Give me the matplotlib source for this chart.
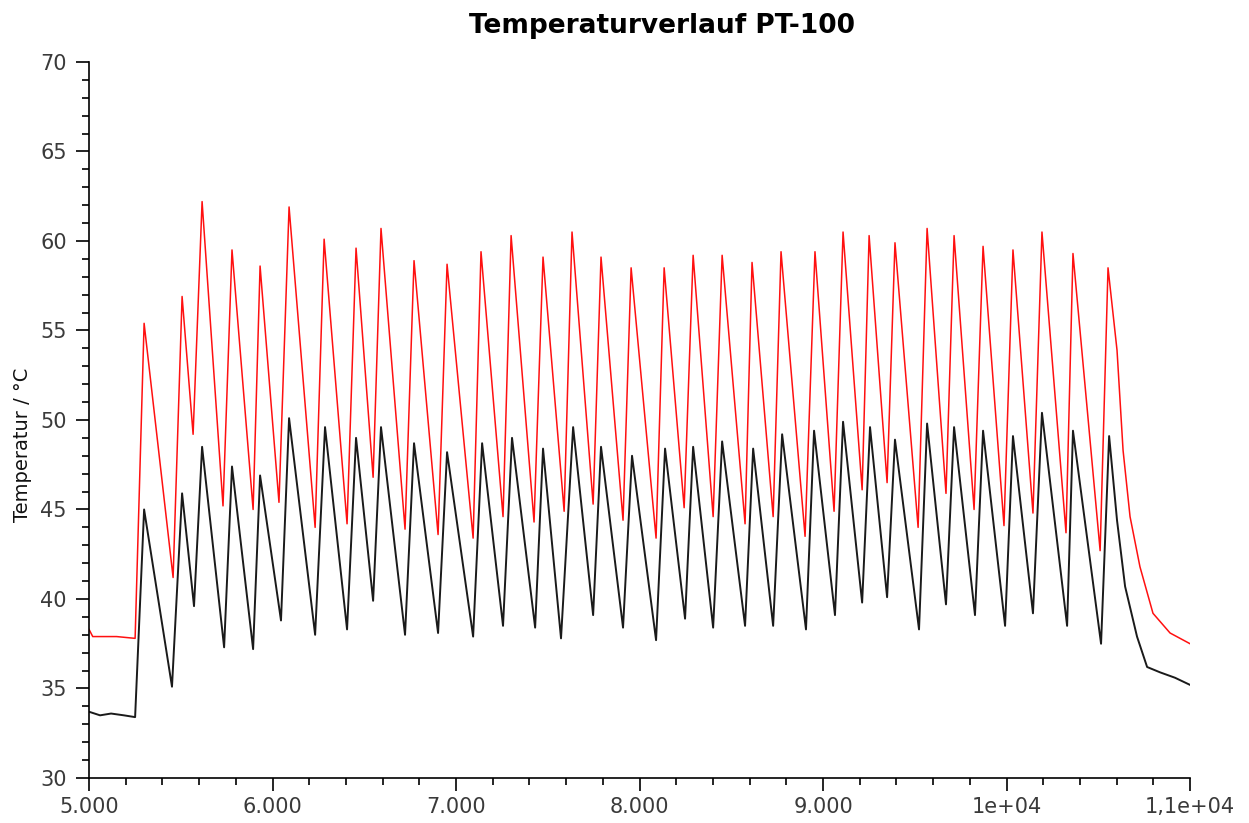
import numpy as np
import matplotlib

matplotlib.use("Agg")
import matplotlib.pyplot as plt
from matplotlib.ticker import MultipleLocator

# Oberer Fühler (rot): Vorlauf, Spitzen, Täler, Abkühlung
red_lead_t = [5000, 5020, 5150, 5251]
red_lead_v = [38.3, 37.9, 37.9, 37.8]
red_peak_t = [5300, 5507, 5616, 5779, 5932, 6090, 6281, 6455, 6591, 6771, 6951,
              7136, 7300, 7474, 7632, 7790, 7954, 8134, 8292, 8450, 8613, 8771,
              8956, 9109, 9251, 9392, 9567, 9714, 9872, 10035, 10193, 10362, 10553]
red_peak_v = [55.4, 56.9, 62.2, 59.5, 58.6, 61.9, 60.1, 59.6, 60.7, 58.9, 58.7,
              59.4, 60.3, 59.1, 60.5, 59.1, 58.5, 58.5, 59.2, 59.2, 58.8, 59.4,
              59.4, 60.5, 60.3, 59.9, 60.7, 60.3, 59.7, 59.5, 60.5, 59.3, 58.5]
red_trough_t = [5458, 5567, 5730, 5894, 6035, 6232, 6406, 6548, 6722, 6902, 7093,
                7256, 7425, 7589, 7747, 7910, 8090, 8243, 8401, 8575, 8728, 8902,
                9060, 9213, 9349, 9518, 9670, 9823, 9986, 10144, 10324, 10510]
red_trough_v = [41.2, 49.2, 45.2, 45.0, 45.4, 44.0, 44.2, 46.8, 43.9, 43.6, 43.4,
                44.6, 44.3, 44.9, 45.3, 44.4, 43.4, 45.1, 44.6, 44.2, 44.6, 43.5,
                44.9, 46.1, 46.5, 44.0, 45.9, 45.0, 44.1, 44.8, 43.7, 42.7]
red_tail_t = [10602, 10635, 10673, 10727, 10798, 10891, 11000]
red_tail_v = [53.9, 48.3, 44.6, 41.8, 39.2, 38.1, 37.5]

# Unterer Fühler (schwarz)
black_lead_t = [5000, 5060, 5120, 5190, 5251]
black_lead_v = [33.7, 33.5, 33.6, 33.5, 33.4]
black_peak_t = [5300, 5507, 5616, 5779, 5932, 6090, 6286, 6455, 6591, 6771, 6951,
                7142, 7305, 7474, 7638, 7790, 7959, 8139, 8292, 8450, 8619, 8777,
                8951, 9109, 9256, 9392, 9567, 9714, 9872, 10035, 10193, 10362, 10559]
black_peak_v = [45.0, 45.9, 48.5, 47.4, 46.9, 50.1, 49.6, 49.0, 49.6, 48.7, 48.2,
                48.7, 49.0, 48.4, 49.6, 48.5, 48.0, 48.4, 48.5, 48.8, 48.4, 49.2,
                49.4, 49.9, 49.6, 48.9, 49.8, 49.6, 49.4, 49.1, 50.4, 49.4, 49.1]
black_trough_t = [5452, 5572, 5736, 5894, 6046, 6232, 6406, 6548, 6722, 6902, 7093,
                  7256, 7431, 7572, 7747, 7910, 8090, 8248, 8401, 8575, 8728, 8907,
                  9065, 9213, 9349, 9523, 9670, 9828, 9992, 10144, 10330, 10515]
black_trough_v = [35.1, 39.6, 37.3, 37.2, 38.8, 38.0, 38.3, 39.9, 38.0, 38.1, 37.9,
                  38.5, 38.4, 37.8, 39.1, 38.4, 37.7, 38.9, 38.4, 38.5, 38.5, 38.3,
                  39.1, 39.8, 40.1, 38.3, 39.7, 39.1, 38.5, 39.2, 38.5, 37.5]
black_tail_t = [10602, 10646, 10711, 10766, 10837, 10918, 11000]
black_tail_v = [44.4, 40.7, 37.9, 36.2, 35.9, 35.6, 35.2]

x_ticks = [5000, 6000, 7000, 8000, 9000, 10000, 11000]
x_tick_labels = ["5.000", "6.000", "7.000", "8.000", "9.000", "1e+04", "1,1e+04"]
y_ticks = [30, 35, 40, 45, 50, 55, 60, 65, 70]


def series(*parts):
    t = np.concatenate([p[0] for p in parts]).astype(float)
    v = np.concatenate([p[1] for p in parts]).astype(float)
    order = np.argsort(t, kind="stable")
    return t[order], v[order]


red_t, red_v = series((red_lead_t, red_lead_v), (red_peak_t, red_peak_v),
                      (red_trough_t, red_trough_v), (red_tail_t, red_tail_v))
blk_t, blk_v = series((black_lead_t, black_lead_v), (black_peak_t, black_peak_v),
                      (black_trough_t, black_trough_v), (black_tail_t, black_tail_v))

plt.rcParams["font.family"] = ["DejaVu Sans"]

fig = plt.figure(figsize=(12.49, 8.23), dpi=100)
ax = fig.add_axes([0.0713, 0.0547, 0.8815, 0.870])

ax.plot(red_t, red_v, color="#ff1010", lw=1.1, solid_joinstyle="round")
ax.plot(blk_t, blk_v, color="#1a1a1a", lw=1.4, solid_joinstyle="round")

ax.set_xlim(5000, 11000)
ax.set_ylim(30, 70)
ax.set_xticks(x_ticks)
ax.set_xticklabels(x_tick_labels)
ax.set_yticks(y_ticks)
ax.xaxis.set_minor_locator(MultipleLocator(200))
ax.yaxis.set_minor_locator(MultipleLocator(1))

for side in ("top", "right"):
    ax.spines[side].set_visible(False)
for side in ("left", "bottom"):
    ax.spines[side].set_linewidth(1.2)

ax.tick_params(which="major", length=9.5, width=1.2, labelsize=15,
               labelcolor="#3a3a3a")
ax.tick_params(axis="y", which="major", pad=6.5)
ax.tick_params(axis="x", which="major", pad=4)
ax.tick_params(which="minor", length=5, width=1.2)

ax.set_ylabel("Temperatur / °C", fontsize=14, color="#111111")
ax.yaxis.set_label_coords(-0.052, 0.465)
fig.text(0.530, 0.968, "Temperaturverlauf PT-100", ha="center", va="center",
         fontsize=19, fontweight="bold")

fig.savefig("out.png", dpi=100)
